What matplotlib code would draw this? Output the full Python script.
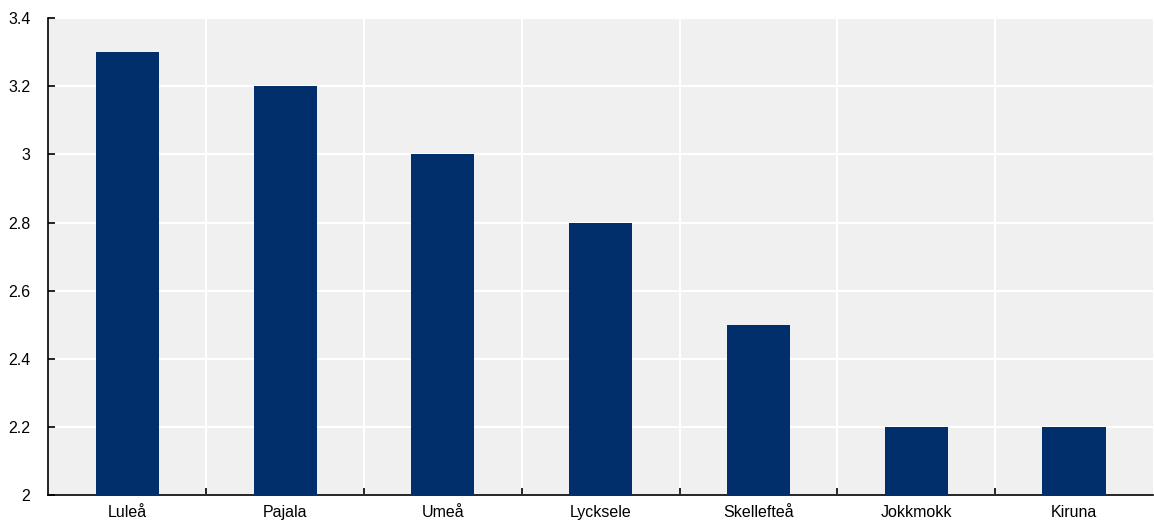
import numpy as np
import matplotlib.pyplot as plt
from matplotlib.ticker import FixedLocator

plt.rcParams['font.family'] = ['Liberation Sans', 'DejaVu Sans']

# data
towns = ['Luleå', 'Pajala', 'Umeå', 'Lycksele', 'Skellefteå', 'Jokkmokk', 'Kiruna']
values = [3.3, 3.2, 3.0, 2.8, 2.5, 2.2, 2.2]
yticks = [2, 2.2, 2.4, 2.6, 2.8, 3, 3.2, 3.4]
ylabels = ['2', '2.2', '2.4', '2.6', '2.8', '3', '3.2', '3.4']

fig = plt.figure(figsize=(11.54, 5.2), dpi=100)
ax = fig.add_axes([0.042, 0.048, 0.957, 0.917])
ax.set_facecolor('#F0F0F0')

x = np.arange(len(towns))
ax.bar(x, values, width=0.4, color='#002F6C', zorder=3)

ax.set_xlim(-0.5, len(towns) - 0.5)
ax.set_ylim(2, 3.4)
ax.set_yticks(yticks)
ax.set_yticklabels(ylabels)
ax.set_xticks(x)
ax.set_xticklabels(towns)
ax.xaxis.set_minor_locator(FixedLocator(np.arange(0.5, len(towns) - 0.5, 1)))

# grid: white lines, vertical ones between categories
ax.grid(axis='y', which='major', color='white', linewidth=1.5, zorder=1)
ax.grid(axis='x', which='minor', color='white', linewidth=1.5, zorder=1)
ax.set_axisbelow(True)

ax.tick_params(axis='y', direction='in', length=5, width=1.2, pad=13, labelsize=11.5)
ax.tick_params(axis='x', which='major', length=0, pad=7, labelsize=11.5)
ax.tick_params(axis='x', which='minor', direction='in', length=5, width=1.2)

for s in ['top', 'right']:
    ax.spines[s].set_visible(False)
for s in ['left', 'bottom']:
    ax.spines[s].set_linewidth(1.2)
    ax.spines[s].set_color('black')

fig.savefig('out.png', dpi=100)
